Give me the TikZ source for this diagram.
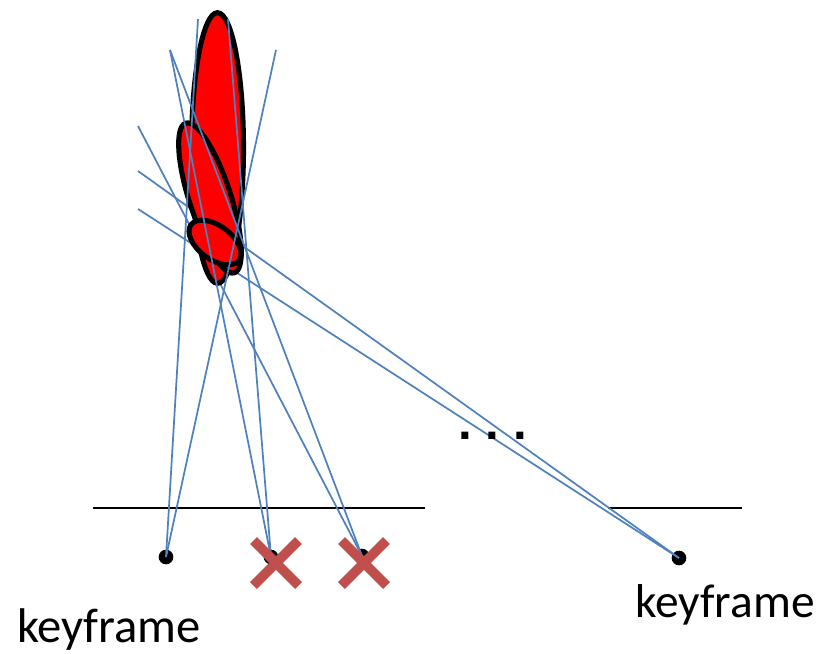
\documentclass[tikz,border=0pt]{standalone}
\usepackage{fontspec}
\setmainfont{Carlito}
\newfontfamily\dotfont{Liberation Sans}
\definecolor{rayblue}{HTML}{4F81BD}
\definecolor{crossred}{HTML}{C0504D}
\begin{document}
\begin{tikzpicture}[x=0.75pt,y=-0.75pt,
  ray/.style={draw=rayblue,line width=1.3pt},
  plane/.style={draw=black,line width=1.5pt},
  blob/.style={fill=red,draw=black,line width=3.8pt},
  kfdot/.style={circle,fill=black,inner sep=0pt,minimum size=11pt},
  kflabel/.style={anchor=base,inner sep=0pt},
  xarm/.style={draw=crossred,line width=7.2pt,line cap=butt}]
\useasboundingbox (0,0) rectangle (816,653);
% image planes
\coordinate (p1a) at (93,508); \coordinate (p1b) at (425,508);
\coordinate (p2a) at (608,508); \coordinate (p2b) at (742,508);
\coordinate (s1a) at (199,508); \coordinate (s1b) at (228,508);
\coordinate (s2a) at (289,508); \coordinate (s2b) at (333,508);
\draw[plane] (p1a) -- (p1b);
\draw[plane] (p2a) -- (p2b);
\draw[plane,line width=2.2pt] (s1a) -- (s1b);
\draw[plane,line width=2.2pt] (s2a) -- (s2b);
% keyframes
\node[kfdot] (kf1) at (166,557) {};
\node[kfdot] (kf2) at (271,557) {};
\node[kfdot] (kf3) at (362,556) {};
\node[kfdot] (kf4) at (679,558) {};
% ray ends
\coordinate (t1) at (198,19);
\coordinate (t2) at (276,50);
\coordinate (t3) at (228,19);
\coordinate (t4) at (170,50);
\coordinate (t5) at (138,126);
\coordinate (t6) at (138,171);
\coordinate (t7) at (138,209);
% rays behind the blobs
\draw[ray] (t5) -- (kf3.center);
\draw[ray] (t6) -- (kf4.center);
\draw[ray] (t7) -- (kf4.center);
% blobs
\draw[blob] (217.5,148) ellipse [x radius=19.5pt, y radius=101.5pt];
\draw[blob,rotate around={18:(210,198)}] (210,198) ellipse [x radius=15.6pt, y radius=59pt];
\draw[blob,rotate around={-36.5:(215,242.5)}] (215,242.5) ellipse [x radius=22.4pt, y radius=12.6pt];
% rays in front
\draw[ray] (t1) -- (kf1.center);
\draw[ray] (t2) -- (kf1.center);
\draw[ray] (t3) -- (kf2.center);
\draw[ray] (t4) -- (kf2.center);
\draw[ray] (t4) -- (kf3.center);
% crosses
\coordinate (c1) at (276,563);
\coordinate (c2) at (364,563);
\draw[xarm] ([shift={(-22.5,-22.5)}]c1) -- ([shift={(22.5,22.5)}]c1);
\draw[xarm] ([shift={(-22.5,22.5)}]c1) -- ([shift={(22.5,-22.5)}]c1);
\draw[xarm] ([shift={(-22.5,-22.5)}]c2) -- ([shift={(22.5,22.5)}]c2);
\draw[xarm] ([shift={(-22.5,22.5)}]c2) -- ([shift={(22.5,-22.5)}]c2);
% dots
\node[font=\dotfont\bfseries\fontsize{37}{40}\selectfont,anchor=base,inner sep=0pt] (dots) at (492.5,439) {.\ .\ .};
% labels
\node[kflabel,font=\fontsize{36.5}{40}\selectfont] (l1) at (109,642) {keyframe};
\node[kflabel,font=\fontsize{35.6}{40}\selectfont] (l2) at (725,617) {keyframe};
\end{tikzpicture}
\end{document}
